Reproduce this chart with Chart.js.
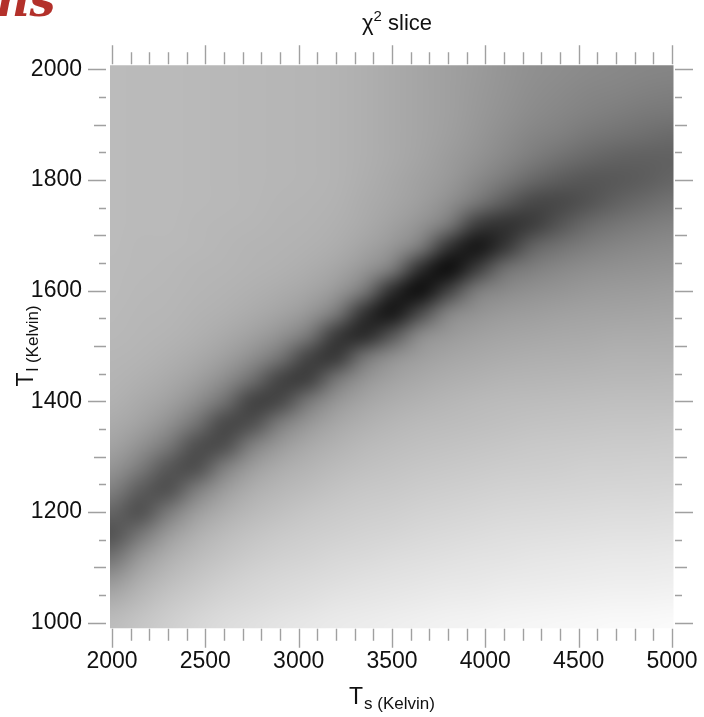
<!DOCTYPE html>
<html>
<head>
<meta charset="utf-8">
<title>chi2 slice</title>
<script src="https://cdn.jsdelivr.net/npm/chart.js@4.4.1/dist/chart.umd.min.js"></script>
<style>
  html, body { margin: 0; padding: 0; background: #fff; }
  #wrap { width: 704px; height: 717px; position: relative; }
</style>
</head>
<body>
<div id="wrap"><canvas id="chi2" width="704" height="717"></canvas></div>
<script>
// cell centres in Kelvin
const tsKelvin = [2000, 2150, 2300, 2450, 2600, 2750, 2900, 3050, 3200, 3350, 3500,
                  3650, 3800, 3950, 4100, 4250, 4400, 4550, 4700, 4850, 5000]
const tlKelvin = [2000, 1960, 1920, 1880, 1840, 1800, 1760, 1720, 1680, 1640, 1600, 1560, 1520,
                  1480, 1440, 1400, 1360, 1320, 1280, 1240, 1200, 1160, 1120, 1080, 1040, 1000]

// grey level of the chi2 map, one row per tlKelvin entry (0 = best fit / black)
const chiShade = [
  [187,186,186,185,184,183,182,181,179,175,170,165,160,155,149,144,141,138,136,134,133],
  [187,186,186,185,184,183,182,181,179,175,170,165,160,154,148,142,138,134,132,129,127],
  [187,186,186,185,184,183,182,181,179,175,170,165,160,153,146,139,134,129,125,121,119],
  [187,186,186,185,184,183,182,181,179,175,170,165,159,151,142,133,127,119,114,110,106],
  [187,186,186,185,184,183,182,181,179,175,170,164,156,147,136,124,113,104, 98, 96, 97],
  [187,186,186,185,184,183,182,181,179,174,168,161,153,138,122,104, 92, 86, 88, 93,101],
  [187,186,186,185,184,183,181,180,178,172,166,158,144,120, 93, 72, 72, 83, 97,107,115],
  [187,186,186,184,183,182,180,179,176,170,161,148,122, 62, 49, 60, 85,106,117,124,129],
  [187,185,185,184,182,180,179,177,173,164,151,124, 52, 20, 52, 98,115,126,133,137,140],
  [186,185,184,182,181,179,177,173,166,151,124, 46, 11, 58,111,127,136,142,145,147,149],
  [186,184,183,181,179,176,172,166,153,120, 44, 13, 64,123,138,145,149,153,155,156,158],
  [185,183,182,179,176,171,164,152,122, 50, 20, 72,131,147,154,157,160,162,163,164,165],
  [184,182,180,176,170,161,147,121, 58, 40, 84,138,153,160,164,166,168,169,171,171,172],
  [182,180,176,170,160,143,116, 67, 55,115,144,158,165,169,172,174,175,176,178,178,178],
  [180,176,170,160,142,111, 67, 62,117,148,162,169,174,177,180,181,182,183,184,184,185],
  [177,170,161,143,113, 66, 71,119,150,165,173,178,182,185,187,188,189,190,191,191,191],
  [171,162,145,115, 72, 78,124,151,167,176,182,186,188,190,192,194,195,196,197,197,198],
  [163,146,120, 78, 77,127,154,169,178,185,189,192,194,196,198,200,201,202,203,203,204],
  [149,123, 86, 77,126,157,172,180,187,192,195,198,200,202,204,205,206,208,208,209,209],
  [128, 92, 79,124,156,174,183,189,195,199,201,204,206,208,210,211,212,213,214,214,215],
  [100, 79,121,156,174,185,192,198,202,205,207,210,212,214,216,217,218,219,220,220,221],
  [ 82,117,154,175,187,195,201,205,208,211,213,216,218,220,222,223,224,225,226,226,227],
  [112,151,174,187,196,203,208,211,215,217,220,222,224,226,227,229,230,231,232,232,233],
  [148,172,187,197,205,211,215,218,221,224,226,228,230,231,233,234,235,236,237,237,238],
  [173,186,198,206,213,217,221,224,228,230,232,234,236,237,239,240,241,242,243,243,244],
  [188,197,206,214,220,224,228,231,234,236,238,240,242,243,245,246,247,248,249,249,250]
]

const FONT = '"Liberation Sans", Arial, Helvetica, sans-serif'

// paints the grid as one smoothed image placed by the x/y scales
const heatmap = {
  id: 'heatmap',
  beforeDatasetsDraw(chart) {
    const {ctx, chartArea: area, scales: {x, y}} = chart
    const cols = tsKelvin.length
    const rows = tlKelvin.length
    const off = document.createElement('canvas')
    off.width = cols
    off.height = rows
    const octx = off.getContext('2d')
    const img = octx.createImageData(cols, rows)
    chiShade.forEach((row, j) => {
      row.forEach((g, i) => {
        const k = (j * cols + i) * 4
        img.data[k] = g
        img.data[k + 1] = g
        img.data[k + 2] = g
        img.data[k + 3] = 255
      })
    })
    octx.putImageData(img, 0, 0)

    const hx = (tsKelvin[1] - tsKelvin[0]) / 2
    const hy = (tlKelvin[0] - tlKelvin[1]) / 2
    const left = x.getPixelForValue(tsKelvin[0] - hx)
    const right = x.getPixelForValue(tsKelvin[cols - 1] + hx)
    const top = y.getPixelForValue(tlKelvin[0] + hy)
    const bottom = y.getPixelForValue(tlKelvin[rows - 1] - hy)

    ctx.save()
    ctx.beginPath()
    ctx.rect(area.left - 2, area.top - 4, area.width + 3.5, area.height + 9.5)
    ctx.clip()
    ctx.imageSmoothingEnabled = true
    ctx.imageSmoothingQuality = 'high'
    ctx.drawImage(off, left, top, right - left, bottom - top)
    ctx.restore()
  }
}

// outward tick marks on all four sides, title and axis titles
const frame = {
  id: 'frame',
  afterDraw(chart) {
    const {ctx, chartArea: a, scales: {x, y}} = chart
    ctx.save()
    ctx.strokeStyle = '#a0a0a0'
    ctx.lineWidth = 1.4
    ctx.beginPath()
    x.ticks.forEach(t => {
      const px = Math.round(x.getPixelForValue(t.value)) + 0.5
      const len = t.value % 500 === 0 ? 19 : 12
      ctx.moveTo(px, a.bottom + 6)
      ctx.lineTo(px, a.bottom + 6 + len)
      ctx.moveTo(px, a.top - 5)
      ctx.lineTo(px, a.top - 5 - len)
    })
    y.ticks.forEach(t => {
      const py = Math.round(y.getPixelForValue(t.value)) + 0.5
      const len = t.value % 200 === 0 ? 18 : (t.value % 100 === 0 ? 12 : 7)
      ctx.moveTo(a.left - 6, py)
      ctx.lineTo(a.left - 6 - len, py)
      ctx.moveTo(a.right + 3, py)
      ctx.lineTo(a.right + 3 + len, py)
    })
    ctx.stroke()

    ctx.fillStyle = '#111'
    ctx.textBaseline = 'alphabetic'
    ctx.textAlign = 'left'
    const midX = (a.left + a.right) / 2
    const midY = (a.top + a.bottom) / 2

    // title: chi^2 slice
    const big = '22px ' + FONT
    const sup = '15px ' + FONT
    ctx.font = big
    const wChi = ctx.measureText('χ').width
    const wSlice = ctx.measureText(' slice').width
    ctx.font = sup
    const wTwo = ctx.measureText('2').width
    const tx = midX + 5 - (wChi + wTwo + wSlice) / 2
    ctx.font = big
    ctx.fillText('χ', tx, 30)
    ctx.font = sup
    ctx.fillText('2', tx + wChi, 21)
    ctx.font = big
    ctx.fillText(' slice', tx + wChi + wTwo, 30)

    // axis titles with subscripts
    const axisBig = '23px ' + FONT
    const axisSub = '17px ' + FONT
    const drawSub = (main, sub, cx, base) => {
      ctx.font = axisBig
      const w1 = ctx.measureText(main).width
      ctx.font = axisSub
      const w2 = ctx.measureText(sub).width
      const x0 = cx - (w1 + 1 + w2) / 2
      ctx.font = axisBig
      ctx.fillText(main, x0, base)
      ctx.font = axisSub
      ctx.fillText(sub, x0 + w1 + 1, base + 5)
    }
    drawSub('T', 's (Kelvin)', midX, 704)

    ctx.save()
    ctx.translate(33, midY)
    ctx.rotate(-Math.PI / 2)
    drawSub('T', 'l (Kelvin)', 0, 0)
    ctx.restore()

    // corner of the page logo
    ctx.fillStyle = '#b3302a'
    ctx.font = 'italic bold 46px "DejaVu Serif", serif'
    ctx.fillText('ns', -4, 16)
    ctx.restore()
  }
}

const tickFont = { family: FONT, size: 23 }

new Chart(document.getElementById('chi2'), {
  type: 'scatter',
  data: { datasets: [] },
  options: {
    responsive: false,
    animation: false,
    events: [],
    layout: { padding: { top: 69.3, right: 32, left: 0, bottom: 0 } },
    plugins: {
      legend: { display: false },
      tooltip: { enabled: false },
      title: { display: false }
    },
    scales: {
      x: {
        type: 'linear',
        position: 'bottom',
        min: 2000,
        max: 5000,
        grid: { display: false, drawTicks: false },
        border: { display: false },
        ticks: {
          stepSize: 100,
          autoSkip: false,
          maxRotation: 0,
          padding: 25,
          color: '#111',
          font: tickFont,
          callback: v => (v % 500 === 0 ? v : '')
        },
        afterFit: s => {
          s.height = 94.3
          s.paddingLeft = 0
          s.paddingRight = 0
        }
      },
      y: {
        type: 'linear',
        position: 'left',
        min: 1000,
        max: 2000,
        grid: { display: false, drawTicks: false },
        border: { display: false },
        ticks: {
          stepSize: 50,
          autoSkip: false,
          padding: 30,
          color: '#111',
          font: tickFont,
          callback: v => (v % 200 === 0 ? v : '')
        },
        afterFit: s => { s.width = 112 }
      }
    }
  },
  plugins: [heatmap, frame]
})
</script>
</body>
</html>
